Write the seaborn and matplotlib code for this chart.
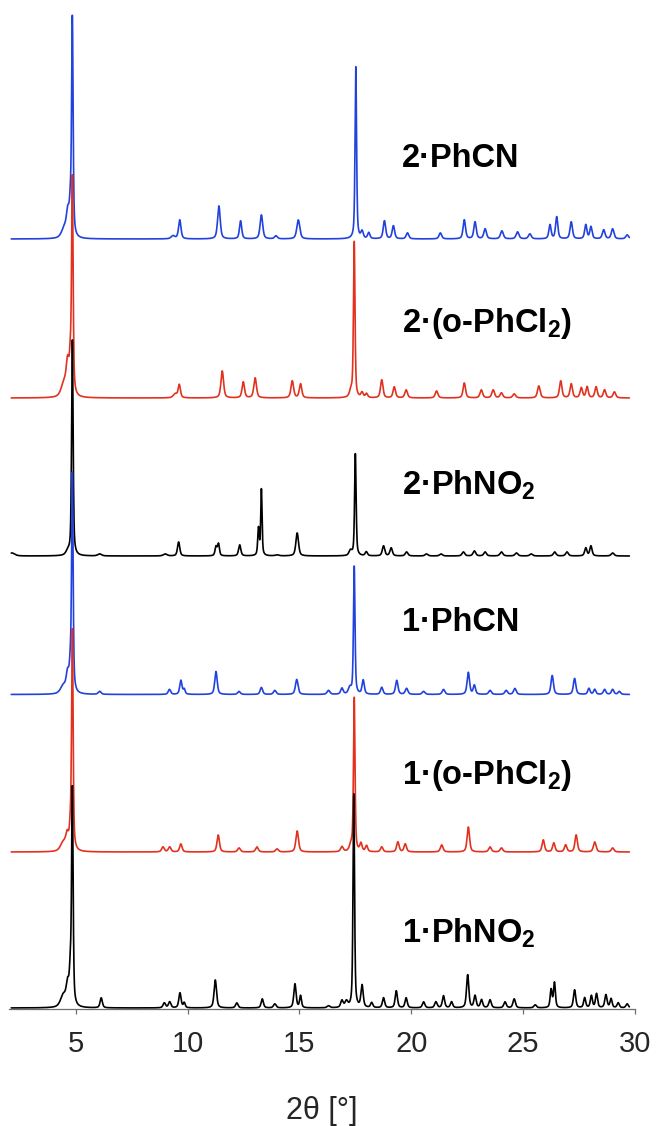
import numpy as np
import pandas as pd
import matplotlib
matplotlib.use("Agg")
import matplotlib.pyplot as plt
import seaborn as sns

# Powder diffraction patterns, each given as a list of reflections:
# (2-theta position in degrees, intensity in arbitrary units, FWHM in degrees)
PEAKS_2_PHCN = [
    (4.50, 10, 0.3), (4.65, 22, 0.15), (4.76, 25, 0.1), (4.85, 217, 0.08),
    (9.35, 3, 0.2), (9.65, 19, 0.13), (11.40, 33, 0.14), (12.37, 18, 0.12),
    (13.30, 24, 0.14), (13.95, 3, 0.15), (14.95, 19, 0.16), (17.52, 172, 0.08),
    (17.80, 7, 0.12), (18.10, 6, 0.12), (18.80, 18, 0.13), (19.20, 13, 0.13),
    (19.83, 6, 0.14), (21.30, 6, 0.14), (22.37, 19, 0.13), (22.85, 17, 0.13),
    (23.30, 10, 0.14), (24.05, 8, 0.15), (24.75, 7, 0.15), (25.30, 5, 0.15),
    (26.20, 14, 0.12), (26.50, 22, 0.12), (27.15, 17, 0.13), (27.80, 14, 0.12),
    (28.03, 12, 0.12), (28.60, 9, 0.14), (29.00, 10, 0.14), (29.65, 4, 0.15),
]
PEAKS_2_OPHCL2 = [
    (4.48, 14, 0.3), (4.64, 30, 0.15), (4.76, 30, 0.1), (4.85, 215, 0.08),
    (9.45, 4, 0.2), (9.63, 13, 0.12), (11.55, 27, 0.14), (12.49, 16, 0.13),
    (13.02, 20, 0.14), (14.68, 17, 0.14), (15.05, 14, 0.13), (17.30, 6, 0.15),
    (17.45, 156, 0.08), (17.80, 5, 0.12), (18.00, 4, 0.12), (18.68, 18, 0.13),
    (19.24, 11, 0.13), (19.77, 8, 0.14), (21.13, 7, 0.14), (22.37, 15, 0.13),
    (23.13, 8, 0.14), (23.66, 8, 0.14), (24.03, 5, 0.14), (24.60, 4, 0.15),
    (25.70, 12, 0.14), (26.68, 17, 0.13), (27.15, 14, 0.13), (27.60, 10, 0.13),
    (27.86, 11, 0.12), (28.26, 11, 0.13), (28.64, 8, 0.13), (29.08, 6, 0.14),
]
PEAKS_2_PHNO2 = [
    (2.15, 3, 0.3), (4.65, 4, 0.2), (4.85, 216, 0.08), (6.07, 2, 0.2),
    (9.00, 2, 0.2), (9.60, 14, 0.12), (11.27, 9, 0.1), (11.38, 12, 0.1),
    (12.33, 11, 0.12), (13.17, 27, 0.08), (13.30, 66, 0.07), (14.00, 1, 0.2),
    (14.90, 23, 0.14), (17.28, 5, 0.15), (17.50, 102, 0.08), (17.99, 4, 0.12),
    (18.76, 10, 0.13), (19.10, 8, 0.13), (19.79, 4, 0.14), (20.68, 2, 0.15),
    (21.33, 2, 0.15), (22.33, 4, 0.14), (22.82, 5, 0.14), (23.30, 4, 0.14),
    (24.03, 4, 0.15), (24.70, 3, 0.15), (25.36, 2, 0.15), (26.41, 4, 0.14),
    (26.96, 4, 0.14), (27.80, 8, 0.12), (28.03, 10, 0.12), (29.00, 3, 0.15),
]
PEAKS_1_PHCN = [
    (4.45, 8, 0.3), (4.64, 18, 0.15), (4.76, 22, 0.1), (4.85, 217, 0.08),
    (6.07, 3, 0.15), (9.19, 5, 0.13), (9.70, 14, 0.12), (9.85, 5, 0.1),
    (11.27, 23, 0.13), (12.30, 3, 0.14), (13.30, 7, 0.13), (13.90, 4, 0.14),
    (14.88, 15, 0.14), (16.30, 4, 0.15), (16.90, 6, 0.13), (17.25, 6, 0.15),
    (17.45, 128, 0.08), (17.85, 14, 0.12), (18.68, 7, 0.13), (19.35, 14, 0.13),
    (19.79, 6, 0.14), (20.55, 3, 0.15), (21.44, 5, 0.14), (22.55, 22, 0.13),
    (22.82, 9, 0.12), (23.52, 4, 0.14), (24.24, 4, 0.14), (24.63, 6, 0.14),
    (26.30, 19, 0.13), (27.30, 16, 0.13), (27.94, 6, 0.12), (28.20, 5, 0.12),
    (28.64, 5, 0.13), (29.00, 5, 0.13), (29.30, 3, 0.13),
]
PEAKS_1_OPHCL2 = [
    (4.45, 9, 0.3), (4.62, 14, 0.15), (4.76, 18, 0.1), (4.85, 219, 0.08),
    (8.90, 5, 0.14), (9.20, 5, 0.14), (9.70, 8, 0.13), (11.37, 17, 0.13),
    (12.30, 4, 0.14), (13.10, 5, 0.14), (14.00, 3, 0.15), (14.90, 21, 0.14),
    (16.90, 5, 0.14), (17.30, 6, 0.15), (17.45, 154, 0.08), (17.75, 8, 0.12),
    (18.00, 6, 0.12), (18.68, 5, 0.13), (19.40, 10, 0.13), (19.73, 8, 0.13),
    (21.36, 7, 0.14), (22.55, 25, 0.13), (23.52, 5, 0.14), (24.03, 4, 0.14),
    (25.90, 12, 0.13), (26.37, 9, 0.13), (26.90, 7, 0.13), (27.37, 17, 0.13),
    (28.20, 10, 0.14), (29.00, 4, 0.14),
]
PEAKS_1_PHNO2 = [
    (4.45, 12, 0.3), (4.64, 20, 0.15), (4.76, 30, 0.1), (4.85, 215, 0.08),
    (6.14, 10, 0.12), (8.96, 5, 0.13), (9.20, 6, 0.13), (9.66, 15, 0.12),
    (9.85, 5, 0.1), (11.24, 28, 0.13), (12.20, 5, 0.13), (13.34, 9, 0.12),
    (13.90, 4, 0.14), (14.80, 24, 0.12), (15.05, 12, 0.1), (16.30, 2, 0.15),
    (16.90, 7, 0.13), (17.10, 6, 0.15), (17.43, 214, 0.08), (17.80, 22, 0.12),
    (18.23, 5, 0.12), (18.76, 10, 0.12), (19.33, 17, 0.12), (19.77, 10, 0.12),
    (20.55, 6, 0.13), (21.10, 6, 0.13), (21.44, 12, 0.12), (21.80, 6, 0.12),
    (22.52, 33, 0.12), (22.85, 12, 0.12), (23.14, 8, 0.12), (23.52, 8, 0.13),
    (24.19, 6, 0.13), (24.60, 9, 0.13), (25.54, 3, 0.14), (26.25, 18, 0.1),
    (26.40, 25, 0.1), (27.30, 18, 0.12), (27.75, 10, 0.11), (28.05, 12, 0.11),
    (28.28, 14, 0.11), (28.70, 13, 0.12), (28.93, 9, 0.11), (29.25, 5, 0.12),
    (29.65, 4, 0.13),
]

SAMPLES = ["2·PhCN", "2·(o-PhCl$_2$)", "2·PhNO$_2$",
           "1·PhCN", "1·(o-PhCl$_2$)", "1·PhNO$_2$"]
PATTERNS = [PEAKS_2_PHCN, PEAKS_2_OPHCL2, PEAKS_2_PHNO2,
            PEAKS_1_PHCN, PEAKS_1_OPHCL2, PEAKS_1_PHNO2]
COLORS = ["#2142dc", "#e2321f", "#000000", "#2142dc", "#e2321f", "#000000"]

# vertical stacking offsets and label baselines (same units as intensity)
OFFSETS = [770, 611, 453, 314.5, 157, 1]
LABEL_Y = [842, 677, 514, 378, 225, 66]
LABEL_X = 19.58

TWO_THETA_RANGE = (2.12, 29.75)


def pattern_profile(x, peaks, eta=0.55):
    """Sum of pseudo-Voigt reflections."""
    y = np.zeros_like(x)
    for pos, height, fwhm in peaks:
        d = (x - pos) / fwhm
        lor = 1.0 / (1.0 + 4.0 * d ** 2)
        gau = np.exp(-4.0 * np.log(2.0) * d ** 2)
        y += height * (eta * lor + (1 - eta) * gau)
    return y


sns.set_theme(style="ticks")
plt.rcParams["font.family"] = ["Liberation Sans", "DejaVu Sans"]
plt.rcParams["mathtext.fontset"] = "custom"
plt.rcParams["mathtext.rm"] = "Liberation Sans:bold"
plt.rcParams["mathtext.it"] = "Liberation Sans:bold"
plt.rcParams["mathtext.bf"] = "Liberation Sans:bold"

W, H = 659, 1126
fig = plt.figure(figsize=(W / 100, H / 100), dpi=100)
ax = fig.add_axes([8.6 / W, 117 / H, 626.4 / W, 1004 / H])

two_theta = np.arange(TWO_THETA_RANGE[0], TWO_THETA_RANGE[1], 0.004)

# top pattern first, so lower patterns are drawn over the taller peaks above
for name, peaks, color, off in zip(SAMPLES, PATTERNS, COLORS, OFFSETS):
    df = pd.DataFrame({"two_theta": two_theta,
                       "intensity": pattern_profile(two_theta, peaks) + off})
    sns.lineplot(data=df, x="two_theta", y="intensity", color=color,
                 linewidth=1.2, estimator=None, sort=False, ax=ax)

for name, ly in zip(SAMPLES, LABEL_Y):
    ax.text(LABEL_X, ly, name, fontsize=23.5, fontweight="bold",
            ha="left", va="baseline", color="black")

ax.set_xlim(2, 30)
ax.set_ylim(0, 1004)
ax.set_yticks([])
ax.set_ylabel("")
ax.set_xticks([5, 10, 15, 20, 25, 30])
ax.set_xlabel("2θ [°]", fontsize=22, labelpad=28)
for side in ["left", "top", "right"]:
    ax.spines[side].set_visible(False)
ax.spines["bottom"].set_color("#6e6e6e")
ax.spines["bottom"].set_linewidth(0.9)
ax.tick_params(axis="x", bottom=True, direction="out", length=3.8,
               width=0.9, color="#6e6e6e", labelsize=21, pad=11)

fig.savefig("out.png", dpi=100, facecolor="white")
